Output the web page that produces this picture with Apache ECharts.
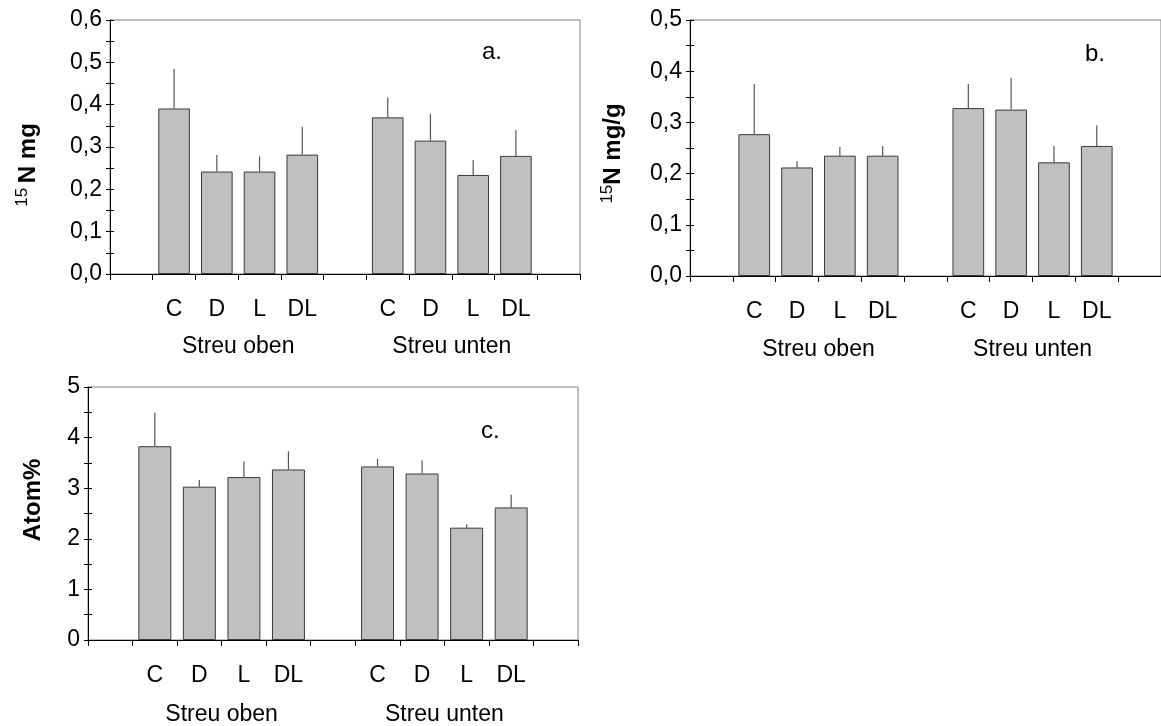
<!DOCTYPE html>
<html>
<head>
<meta charset="utf-8">
<script src="https://cdn.jsdelivr.net/npm/echarts@6/dist/echarts.min.js"></script>
<style>
  html, body { margin: 0; padding: 0; background: #fff; }
  #chart { width: 1161px; height: 726px; }
</style>
</head>
<body>
<div id="chart"></div>
<script>
// Treatments and litter placement groups
const treatments = ['C', 'D', 'L', 'DL'];
const groups = ['Streu oben', 'Streu unten'];

// a. 15N mg
const aOben = [0.391, 0.242, 0.242, 0.282];
const aObenErr = [0.093, 0.039, 0.036, 0.066];
const aUnten = [0.370, 0.315, 0.234, 0.279];
const aUntenErr = [0.047, 0.064, 0.035, 0.061];

// b. 15N mg/g
const bOben = [0.277, 0.212, 0.235, 0.235];
const bObenErr = [0.098, 0.012, 0.017, 0.019];
const bUnten = [0.328, 0.325, 0.222, 0.254];
const bUntenErr = [0.047, 0.062, 0.032, 0.040];

// c. Atom%
const cOben = [3.83, 3.03, 3.22, 3.37];
const cObenErr = [0.66, 0.13, 0.31, 0.36];
const cUnten = [3.43, 3.29, 2.22, 2.62];
const cUntenErr = [0.15, 0.26, 0.07, 0.25];

// Category slots: an empty slot before, between and after the two groups
const slots = [''].concat(treatments, [''], treatments, ['']);
// centre of each group on a 0..slots.length value scale
const groupCenters = [1 + treatments.length / 2, 2 + treatments.length + treatments.length / 2];

const FONT = '"Liberation Sans", Arial, Helvetica, sans-serif';
const BAR_FILL = '#c0c0c0';
const BAR_EDGE = '#3a3a3a';
const ERR_COLOR = '#555555';

function slotValues(oben, unten) {
  return [null].concat(oben, [null], unten, [null]);
}
function errorData(oben, obenErr, unten, untenErr) {
  const out = [];
  oben.forEach((v, i) => out.push([1 + i, v, obenErr[i]]));
  unten.forEach((v, i) => out.push([2 + treatments.length + i, v, untenErr[i]]));
  return out;
}

// upward error line from the top of each bar
function renderErr(params, api) {
  const x = api.value(0), v = api.value(1), e = api.value(2);
  const p0 = api.coord([x, v]);
  const p1 = api.coord([x, v + e]);
  return {
    type: 'line',
    shape: { x1: p0[0], y1: p0[1], x2: p1[0], y2: p1[1] },
    style: { stroke: ERR_COLOR, lineWidth: 1.2 }
  };
}

const panels = [
  { grid: { left: 110, top: 20, width: 470, height: 254 }, max: 0.6, interval: 0.1, dec: 1,
    name: '{s|15 }{b|N mg}', nameGap: 68, namePad: [0, 36, 0, 0], groupMargin: 61,
    oben: aOben, obenErr: aObenErr, unten: aUnten, untenErr: aUntenErr,
    tag: 'a.', tagPos: { left: 482, top: 40 } },
  { grid: { left: 690, top: 20, width: 473, height: 256 }, max: 0.5, interval: 0.1, dec: 1,
    name: '{s|15}{b|N mg/g}', nameGap: 63, namePad: [0, 11, 0, 0], groupMargin: 62,
    oben: bOben, obenErr: bObenErr, unten: bUnten, untenErr: bUntenErr,
    tag: 'b.', tagPos: { left: 1085, top: 42 } },
  { grid: { left: 88, top: 387, width: 490, height: 255 }, max: 5, interval: 1, dec: 0,
    name: '{b|Atom%}', nameGap: 41, namePad: [0, 0, 0, 27], groupMargin: 63,
    oben: cOben, obenErr: cObenErr, unten: cUnten, untenErr: cUntenErr,
    tag: 'c.', tagPos: { left: 481, top: 419 } }
];

const option = {
  animation: false,
  backgroundColor: '#ffffff',
  textStyle: { fontFamily: FONT },
  title: panels.map(p => ({
    text: p.tag, left: p.tagPos.left, top: p.tagPos.top, padding: 0,
    textStyle: { fontFamily: FONT, fontSize: 24, fontWeight: 'normal', color: '#000' }
  })),
  grid: panels.map(p => Object.assign({ show: true, borderColor: '#808080', borderWidth: 1, containLabel: false }, p.grid)),
  xAxis: [],
  yAxis: [],
  series: []
};

panels.forEach((p, gi) => {
  // treatment labels on a category axis
  option.xAxis.push({
    type: 'category', gridIndex: gi, data: slots, boundaryGap: true,
    axisLine: { show: true, lineStyle: { color: '#000', width: 1 } },
    axisTick: { show: true, length: 6, interval: 0, lineStyle: { color: '#000' } },
    axisLabel: { interval: 0, margin: 24, fontSize: 23, color: '#000', fontFamily: FONT },
    splitLine: { show: false }
  });
  // group labels centred under each group of bars
  option.xAxis.push({
    type: 'value', gridIndex: gi, min: 0, max: slots.length, position: 'bottom',
    axisLine: { show: false }, axisTick: { show: false }, splitLine: { show: false },
    axisLabel: {
      customValues: groupCenters, margin: p.groupMargin, fontSize: 23, color: '#000', fontFamily: FONT,
      formatter: v => groups[groupCenters.indexOf(v)] || ''
    }
  });
  const fmt = v => p.dec ? v.toFixed(p.dec).replace('.', ',') : String(Math.round(v));
  // main value axis: labels and outward ticks
  option.yAxis.push({
    type: 'value', gridIndex: gi, min: 0, max: p.max, interval: p.interval,
    axisLine: { show: true, lineStyle: { color: '#000', width: 1 } },
    axisTick: { show: true, length: 4, lineStyle: { color: '#000' } },
    minorTick: { show: true, splitNumber: 2, length: 4, lineStyle: { color: '#000' } },
    splitLine: { show: false },
    axisLabel: { formatter: fmt, margin: 8, fontSize: 23, color: '#000', fontFamily: FONT },
    name: p.name, nameLocation: 'middle', nameRotate: 90, nameGap: p.nameGap,
    nameTextStyle: {
      color: '#000', fontFamily: FONT, padding: p.namePad,
      rich: {
        s: { fontSize: 17, fontFamily: FONT, color: '#000', verticalAlign: 'top', lineHeight: 28 },
        b: { fontSize: 24, fontWeight: 'bold', fontFamily: FONT, color: '#000', lineHeight: 28 }
      }
    }
  });
  // companion axis giving the inward half of each tick
  option.yAxis.push({
    type: 'value', gridIndex: gi, min: 0, max: p.max, interval: p.interval, position: 'left',
    axisLine: { show: false },
    axisTick: { show: true, inside: true, length: 4, lineStyle: { color: '#000' } },
    minorTick: { show: true, splitNumber: 2, length: 4, lineStyle: { color: '#000' } },
    splitLine: { show: false }, axisLabel: { show: false }
  });

  option.series.push({
    type: 'bar', xAxisIndex: gi * 2, yAxisIndex: gi * 2,
    data: slotValues(p.oben, p.unten),
    barCategoryGap: '26%',
    itemStyle: { color: BAR_FILL, borderColor: BAR_EDGE, borderWidth: 1 },
    z: 2
  });
  option.series.push({
    type: 'custom', xAxisIndex: gi * 2, yAxisIndex: gi * 2,
    data: errorData(p.oben, p.obenErr, p.unten, p.untenErr),
    renderItem: renderErr, z: 3, silent: true
  });
});

const chart = echarts.init(document.getElementById('chart'), null, { renderer: 'canvas' });
chart.setOption(option);
</script>
</body>
</html>
